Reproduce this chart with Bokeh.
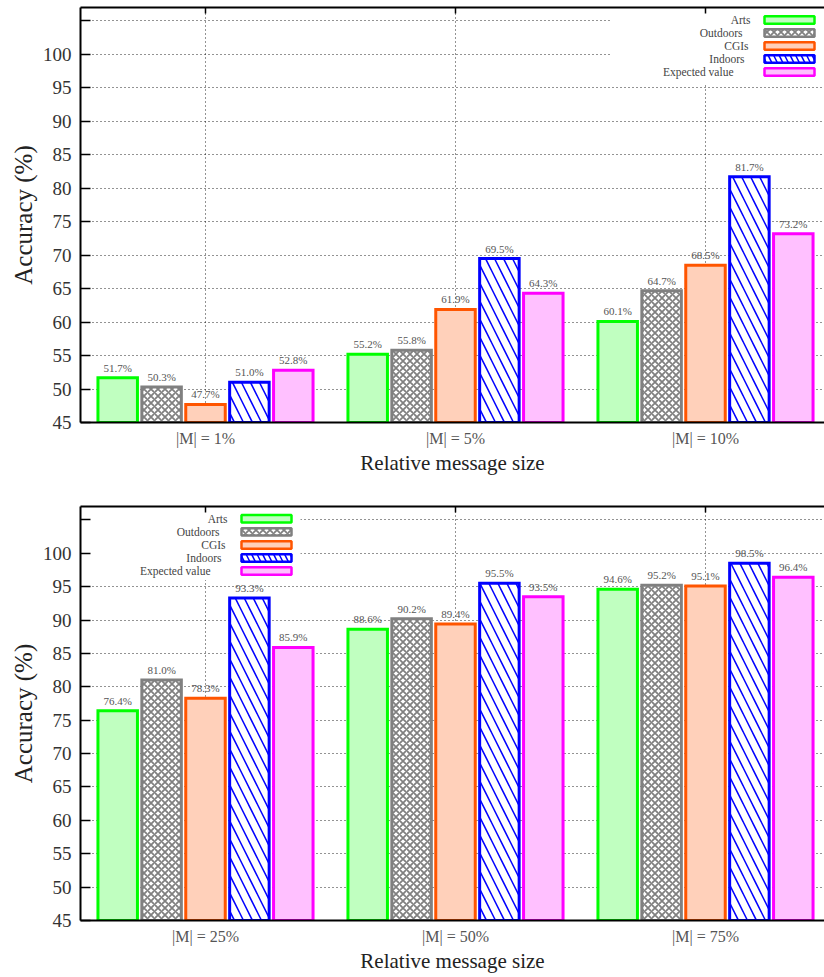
from bokeh.plotting import figure
from bokeh.models import (Range1d, FixedTicker, LinearAxis, BoxAnnotation, Label,
                          ColumnDataSource)
from bokeh.transform import dodge
from bokeh.layouts import column
from bokeh.core.properties import value
from bokeh.embed import file_html
from bokeh.resources import INLINE

# ---------------- data ----------------
series_names = ["Arts", "Outdoors", "CGIs", "Indoors", "Expected value"]

categories_top = ["|M| = 1%", "|M| = 5%", "|M| = 10%"]
arts_top = [51.7, 55.2, 60.1]
outdoors_top = [50.3, 55.8, 64.7]
cgis_top = [47.7, 61.9, 68.5]
indoors_top = [51.0, 69.5, 81.7]
expected_top = [52.8, 64.3, 73.2]

categories_bottom = ["|M| = 25%", "|M| = 50%", "|M| = 75%"]
arts_bottom = [76.4, 88.6, 94.6]
outdoors_bottom = [81.0, 90.2, 95.2]
cgis_bottom = [78.3, 89.4, 95.1]
indoors_bottom = [93.3, 95.5, 98.5]
expected_bottom = [85.9, 93.5, 96.4]

y_ticks = [45, 50, 55, 60, 65, 70, 75, 80, 85, 90, 95, 100, 105]
y_tick_labels = ["45", "50", "55", "60", "65", "70", "75", "80", "85", "90", "95", "100", ""]

# ---------------- styles ----------------
FONT = "Liberation Serif"
styles = [
    dict(line_color="#00ff00", fill_color="#c0ffc0", hatch_pattern=None, hatch_color="#ffffff", hatch_scale=6, hatch_weight=1),
    dict(line_color="#808080", fill_color="#ffffff", hatch_pattern="diagonal_cross", hatch_color="#808080", hatch_scale=7, hatch_weight=1.8),
    dict(line_color="#ff5500", fill_color="#ffd0ba", hatch_pattern=None, hatch_color="#ffffff", hatch_scale=6, hatch_weight=1),
    dict(line_color="#0000ff", fill_color="#ffffff", hatch_pattern="left_diagonal_line", hatch_color="#0000ff", hatch_scale=18, hatch_weight=1.5),
    dict(line_color="#ff00ff", fill_color="#ffc0ff", hatch_pattern=None, hatch_color="#ffffff", hatch_scale=6, hatch_weight=1),
]
legend_text_dx = [-0.056, -0.088, -0.064, -0.080, -0.124]

SLOT = 0.1756
BAR_W = 0.158
FIG_W = 824
LEFT = 80
X_END = -0.5 + (FIG_W - LEFT) / 250.0


def make_fig(categories, values, height, min_top, min_bottom, key_box, key_x):
    p = figure(width=FIG_W, height=height, output_backend="svg", toolbar_location=None,
               x_range=Range1d(-0.5, X_END), y_range=Range1d(45, 107),
               min_border_left=LEFT, min_border_right=0, min_border_top=min_top,
               min_border_bottom=min_bottom, x_axis_label="Relative message size",
               y_axis_label="Accuracy (%)")
    p.outline_line_color = None
    p.background_fill_color = "white"
    p.border_fill_color = "white"

    # axes
    xa = p.xaxis[0]
    xa.ticker = FixedTicker(ticks=[0, 1, 2])
    xa.major_label_overrides = {i: c for i, c in enumerate(categories)}
    xa.major_tick_in = 0
    xa.major_tick_out = 0
    xa.minor_tick_line_color = None
    xa.axis_line_width = 2
    xa.major_label_text_font = FONT
    xa.major_label_text_font_size = "16px"
    xa.major_label_text_color = "#555555"
    xa.major_label_standoff = 7
    xa.axis_label_text_font = FONT
    xa.axis_label_text_font_size = "21px"
    xa.axis_label_text_font_style = "normal"
    xa.axis_label_text_color = "#222222"
    xa.axis_label_standoff = 1

    ya = p.yaxis[0]
    ya.ticker = FixedTicker(ticks=y_ticks)
    ya.major_label_overrides = {t: l for t, l in zip(y_ticks, y_tick_labels)}
    ya.major_tick_in = 10
    ya.major_tick_out = 0
    ya.major_tick_line_width = 1.5
    ya.minor_tick_line_color = None
    ya.axis_line_width = 2
    ya.major_label_text_font = FONT
    ya.major_label_text_font_size = "19px"
    ya.major_label_text_color = "#333333"
    ya.major_label_standoff = 9
    ya.axis_label_text_font = FONT
    ya.axis_label_text_font_size = "25px"
    ya.axis_label_text_font_style = "normal"
    ya.axis_label_text_color = "#222222"
    ya.axis_label_standoff = 3

    top_axis = LinearAxis(ticker=FixedTicker(ticks=[0, 1, 2]),
                          major_label_overrides={0: "", 1: "", 2: ""},
                          major_tick_in=6, major_tick_out=0, major_tick_line_width=1.5,
                          minor_tick_line_color=None, axis_line_width=2,
                          major_label_standoff=0, major_label_text_font_size="1px")
    p.add_layout(top_axis, "above")

    # grids
    for g in (p.xgrid[0], p.ygrid[0]):
        g.grid_line_color = "#000000"
        g.grid_line_dash = "1 3"
        g.grid_line_width = 1
        g.grid_line_alpha = 0.85
    p.xgrid[0].ticker = FixedTicker(ticks=[0, 1, 2])
    p.ygrid[0].ticker = FixedTicker(ticks=y_ticks[1:])

    # key background (opaque, hides grid)
    kb = BoxAnnotation(left=key_box[0], right=key_box[1], bottom=key_box[2], top=key_box[3],
                       fill_color="white", fill_alpha=1.0, line_color=None, level="glyph")
    p.add_layout(kb)

    data = dict(x=[0, 1, 2])
    for i, v in enumerate(values):
        data[f"s{i}"] = v
        data[f"l{i}"] = [f"{a:.1f}%" for a in v]
    src = ColumnDataSource(data)

    for i in range(5):
        st = styles[i]
        off = (i - 2) * SLOT
        kw = dict(line_color=st["line_color"], fill_color=st["fill_color"], line_width=3,
                  line_join="miter")
        if st["hatch_pattern"]:
            kw.update(hatch_pattern=st["hatch_pattern"], hatch_color=st["hatch_color"],
                      hatch_scale=st["hatch_scale"], hatch_weight=st["hatch_weight"])
        p.vbar(x=dodge("x", off, range=p.x_range), top=f"s{i}", bottom=45, width=BAR_W,
               source=src, **kw)
        p.text(x=dodge("x", off, range=p.x_range), y=f"s{i}", text=f"l{i}", source=src,
               y_offset=-4, text_align="center", text_baseline="bottom",
               text_font=value(FONT), text_font_size="11px", text_color="#555555")

    # key
    for i in range(5):
        st = styles[i]
        yc = 105.15 - i * 1.95
        kw = dict(fill_color=st["fill_color"], fill_alpha=1.0, line_color=st["line_color"],
                  line_width=2.5, line_alpha=1.0)
        if st["hatch_pattern"]:
            kw.update(hatch_pattern=st["hatch_pattern"], hatch_color=st["hatch_color"],
                      hatch_scale=min(st["hatch_scale"], 11), hatch_weight=st["hatch_weight"],
                      hatch_alpha=1.0)
        p.add_layout(BoxAnnotation(left=key_x, right=key_x + 0.2, bottom=yc - 0.56,
                                   top=yc + 0.56, **kw))
        p.add_layout(Label(x=key_x + legend_text_dx[i], y=yc, text=series_names[i],
                           text_align="right", text_baseline="middle",
                           text_font=FONT, text_font_size="11.5px", text_color="#444444"))
    return p


p1 = make_fig(categories_top,
              [arts_top, outdoors_top, cgis_top, indoors_top, expected_top],
              height=498, min_top=7, min_bottom=76,
              key_box=(1.62, X_END, 95.6, 107), key_x=2.236)
p2 = make_fig(categories_bottom,
              [arts_bottom, outdoors_bottom, cgis_bottom, indoors_bottom, expected_bottom],
              height=477, min_top=8, min_bottom=54,
              key_box=(-0.46, 0.38, 96.0, 107), key_x=0.144)

layout = column(p1, p2, spacing=0)
open("out.html", "w").write(file_html(layout, INLINE))
